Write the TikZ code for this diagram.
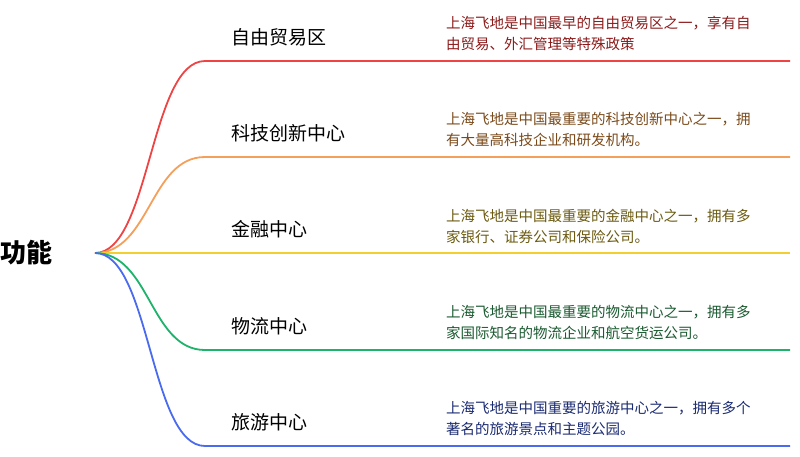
\documentclass[tikz,border=0pt]{standalone}
\usepackage{fontspec}
\setmainfont{Noto Sans CJK SC}
\begin{document}
\begin{tikzpicture}[x=1pt,y=-1pt,
  br/.style={line width=1.8pt},
  lab/.style={anchor=west,font=\fontsize{19}{22}\selectfont,text=black},
  desc/.style={anchor=west,font=\fontsize{14.5}{21}\selectfont,align=left,inner sep=0pt}]
\useasboundingbox (0,0) rectangle (800,456);
\definecolor{cR}{HTML}{EE4444}\definecolor{cO}{HTML}{F5A05A}\definecolor{cY}{HTML}{F2CF2E}
\definecolor{cG}{HTML}{1DB36B}\definecolor{cB}{HTML}{4A6BEE}
\definecolor{tR}{HTML}{8B1A1A}\definecolor{tO}{HTML}{7A4A1A}\definecolor{tY}{HTML}{6B5A10}
\definecolor{tG}{HTML}{1A5A30}\definecolor{tB}{HTML}{1A2A70}
\node[anchor=west,inner sep=0pt,font=\fontsize{26}{30}\selectfont\bfseries] (root) at (0,253) {功能};
\coordinate (s) at (95,253);
\foreach \y/\c/\n in {61/cR/a,157/cO/b,253/cY/c,350/cG/d,446/cB/e}{
  \coordinate (\n1) at (205,\y); \coordinate (\n2) at (790,\y);
  \draw[br,\c] (s) .. controls (150,253) and (150,\y) .. (\n1) -- (\n2);
}
\node[lab] (la) at (228,37) {自由贸易区};
\node[lab] (lb) at (228,133) {科技创新中心};
\node[lab] (lc) at (228,229) {金融中心};
\node[lab] (ld) at (228,326) {物流中心};
\node[lab] (le) at (228,422) {旅游中心};
\node[desc,text=tR] (da) at (446,33) {上海飞地是中国最早的自由贸易区之一，享有自\\由贸易、外汇管理等特殊政策};
\node[desc,text=tO] (db) at (446,129) {上海飞地是中国最重要的科技创新中心之一，拥\\有大量高科技企业和研发机构。};
\node[desc,text=tY] (dc) at (446,226) {上海飞地是中国最重要的金融中心之一，拥有多\\家银行、证券公司和保险公司。};
\node[desc,text=tG] (dd) at (446,322) {上海飞地是中国最重要的物流中心之一，拥有多\\家国际知名的物流企业和航空货运公司。};
\node[desc,text=tB] (de) at (446,418) {上海飞地是中国重要的旅游中心之一，拥有多个\\著名的旅游景点和主题公园。};
\end{tikzpicture}
\end{document}
